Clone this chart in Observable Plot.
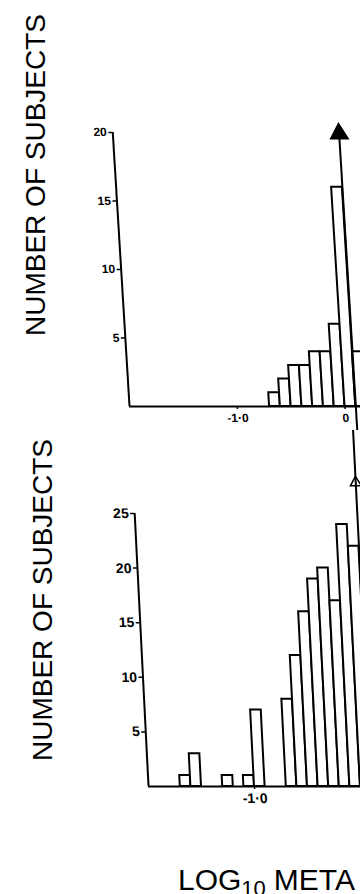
<!DOCTYPE html>
<html><head><meta charset="utf-8">
<script src="https://cdn.jsdelivr.net/npm/d3@7"></script>
<script src="https://cdn.jsdelivr.net/npm/@observablehq/plot@0.6"></script>
<style>
html,body{margin:0;padding:0;background:#fff;overflow:hidden;}
#wrap{position:relative;width:360px;height:894px;overflow:hidden;background:#fff;}
#wrap svg{position:absolute;left:0;max-width:none !important;}
</style></head><body><div id="wrap"></div>
<script>
// ---- data ----
const topBinStart = [-0.7, -0.6, -0.5, -0.4, -0.3, -0.2, -0.1, 0.0, 0.1];
const topCounts   = [1, 2, 3, 3, 4, 4, 6, 16, 4];
const bottomBinStart = [-1.7, -1.6, -1.3, -1.1, -1.0, -0.7, -0.6, -0.5, -0.4, -0.3, -0.2, -0.1, 0.0];
const bottomCounts   = [1, 3, 1, 1, 7, 8, 12, 16, 19, 20, 17, 24, 22];
const binWidth = 0.1;
const markerValue = [0.1];
const topYTicks = [5, 10, 15, 20];
const bottomYTicks = [5, 10, 15, 20, 25];
const topXTicks = [-1, 0];
const topXTickLabels = ["-1·0", "0"];
const bottomXTicks = [-1];
const bottomXTickLabels = ["-1·0"];
const yLabel = "NUMBER OF SUBJECTS";
const xLabelMain = "LOG", xLabelSub = "10", xLabelRest = "META";

const wrap = document.getElementById("wrap");
const tickFont = "'Liberation Sans Narrow','Liberation Sans',Arial,sans-serif";

function panel({binStart, counts, yTicks, xTicks, xLabels, yMax, width, height, top, baseline, yTopPx, xRange, lineTop, lineBottom, headY, headDy, headFill, headR, fontSize, skew}) {
  const data = binStart.map((x, i) => ({x1: x, x2: +(x + binWidth).toFixed(2), n: counts[i]}));
  const fmt = new Map(xTicks.map((t, i) => [t, xLabels[i]]));
  const svg = Plot.plot({
    width, height,
    marginTop: yTopPx, marginBottom: height - baseline, marginLeft: xRange[0], marginRight: 0,
    x: {domain: [-2, 0.5], range: xRange, axis: null},
    y: {domain: [0, yMax], range: [baseline, yTopPx], axis: null},
    style: {background: "transparent", overflow: "visible", fontFamily: tickFont, color: "black", maxWidth: "none"},
    marks: [
      Plot.rect(data, {x1: "x1", x2: "x2", y1: 0, y2: "n", fill: "white", stroke: "black", strokeWidth: 2}),
      Plot.ruleX([-2], {y1: 0, y2: yMax, stroke: "black", strokeWidth: 2}),
      Plot.ruleY([0], {x1: -2, x2: 0.5, stroke: "black", strokeWidth: 2}),
      Plot.axisY(yTicks, {anchor: "left", tickSize: 4, tickPadding: 2, strokeWidth: 1.5, fontSize, fontWeight: "bold", fill: "black", stroke: "black", label: null}),
      Plot.axisX(xTicks, {anchor: "bottom", tickSize: 3, tickPadding: 4, strokeWidth: 1.5, fontSize, fontWeight: "bold", fill: "black", stroke: "black", tickFormat: d => fmt.get(d), label: null}),
      Plot.ruleX(markerValue, {y1: lineBottom, y2: lineTop, stroke: "black", strokeWidth: 2}),
      Plot.dot(markerValue, {x: d => d, y: headY, symbol: "triangle", r: headR, fill: headFill, stroke: "black", strokeWidth: 1.5, dy: headDy})
    ]
  });
  svg.style.top = top + "px";
  svg.style.width = width + "px";
  svg.style.height = height + "px";
  svg.style.maxWidth = "none";
  svg.style.transformOrigin = `0px ${baseline}px`;
  svg.style.transform = `skewX(${skew}deg)`;
  wrap.appendChild(svg);
}

// upper histogram
panel({
  binStart: topBinStart, counts: topCounts, yTicks: topYTicks, xTicks: topXTicks, xLabels: topXTickLabels,
  yMax: 20, width: 400, height: 430, top: 0, baseline: 406, yTopPx: 132, xRange: [129, 398.4],
  lineTop: 20.5, lineBottom: -1.75, headY: 20.5, headDy: 8, headFill: "black", headR: 6.5, fontSize: 12, skew: 3.5
});
// lower histogram
panel({
  binStart: bottomBinStart, counts: bottomCounts, yTicks: bottomYTicks, xTicks: bottomXTicks, xLabels: bottomXTickLabels,
  yMax: 25, width: 420, height: 464, top: 430, baseline: 356, yTopPx: 83, xRange: [148, 413],
  lineTop: 32.6, lineBottom: 0, headY: 28.2, headDy: 4, headFill: "none", headR: 4, fontSize: 14, skew: 2.9
});

// axis titles overlay
const ns = "http://www.w3.org/2000/svg";
const ov = document.createElementNS(ns, "svg");
ov.setAttribute("width", 360); ov.setAttribute("height", 894);
ov.style.top = "0px";
ov.style.fontFamily = "'Liberation Sans',Arial,sans-serif";
wrap.appendChild(ov);
function vLabel(x, y) {
  const t = document.createElementNS(ns, "text");
  t.setAttribute("transform", `translate(${x},${y}) rotate(-90)`);
  t.setAttribute("text-anchor", "middle");
  t.setAttribute("font-size", 28);
  t.setAttribute("fill", "black");
  t.textContent = yLabel;
  ov.appendChild(t);
}
vLabel(45, 175);
vLabel(52, 600);
const xt = document.createElementNS(ns, "text");
xt.setAttribute("x", 178); xt.setAttribute("y", 890);
xt.setAttribute("font-size", 30); xt.setAttribute("fill", "black");
const t1 = document.createElementNS(ns, "tspan"); t1.textContent = xLabelMain;
const t2 = document.createElementNS(ns, "tspan"); t2.textContent = xLabelSub; t2.setAttribute("font-size", 22); t2.setAttribute("dy", 6);
const t3 = document.createElementNS(ns, "tspan"); t3.textContent = xLabelRest; t3.setAttribute("dy", -6); t3.setAttribute("dx", 8);
xt.append(t1, t2, t3);
ov.appendChild(xt);
</script></body></html>
